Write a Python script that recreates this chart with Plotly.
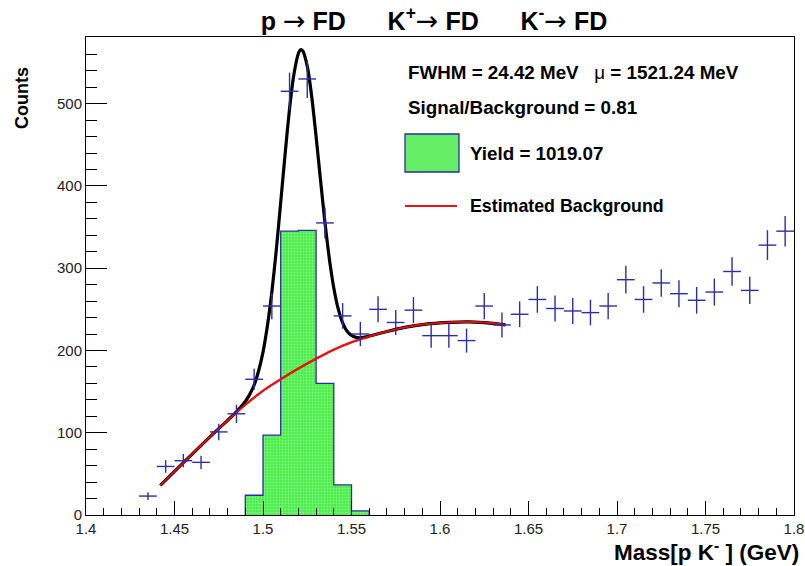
import numpy as np
import plotly.graph_objects as go

# ---------------- data ----------------
bin_centers = [1.435, 1.445, 1.455, 1.465, 1.475, 1.485, 1.495, 1.505, 1.515, 1.525,
               1.535, 1.545, 1.555, 1.565, 1.575, 1.585, 1.595, 1.605, 1.615, 1.625,
               1.635, 1.645, 1.655, 1.665, 1.675, 1.685, 1.695, 1.705, 1.715, 1.725,
               1.735, 1.745, 1.755, 1.765, 1.775, 1.785, 1.795]
counts = [23, 59, 66, 64, 101, 123, 165, 254, 515, 530,
          355, 242, 220, 250, 234, 249, 218, 218, 212, 254,
          231, 244, 262, 251, 248, 246, 254, 286, 262, 282,
          269, 261, 271, 296, 273, 328, 345]

signal_edges = [1.49, 1.50, 1.51, 1.52, 1.53, 1.54, 1.55, 1.56]
signal_counts = [24, 97, 345, 346, 160, 36.5, 5]

bkg_x = [1.442, 1.45, 1.46, 1.47, 1.48, 1.49, 1.50, 1.51, 1.52, 1.53, 1.54,
         1.55, 1.56, 1.57, 1.58, 1.59, 1.60, 1.61, 1.62, 1.63, 1.637]
bkg_y = [36, 53, 74, 95, 115, 134, 151, 165, 178, 190, 201,
         210, 217, 223, 228, 231.5, 233.5, 234.5, 234.5, 233, 231]

fit_x = [1.442, 1.45, 1.46, 1.47, 1.48, 1.485, 1.49, 1.4925, 1.495, 1.4975, 1.50,
         1.5025, 1.505, 1.5075, 1.51, 1.5125, 1.515, 1.5175, 1.52, 1.5212, 1.5225,
         1.525, 1.5275, 1.53, 1.5325, 1.535, 1.5375, 1.54, 1.5425, 1.545, 1.5475,
         1.55, 1.5525, 1.555, 1.56, 1.57, 1.58, 1.59, 1.60, 1.61, 1.62, 1.63, 1.637]
fit_y = [36, 53, 74, 95, 115, 125.4, 138, 146.6, 158, 175, 198,
         230, 271, 322, 380, 439, 494, 536, 561, 565.5, 564,
         545.5, 509, 460, 407, 355.5, 311, 276, 250.5, 233.5, 223.4,
         218.3, 215.9, 215.4, 217.4, 223, 228, 231.5, 233.5, 234.5, 234.5, 233, 231]

x_range = [1.4, 1.8]
y_range = [0, 581]

# ---------------- figure ----------------
W, H = 805, 566
PL, PR, PT, PB = 86, 794, 37, 515          # plot area in window pixels
ml, mt = PL, PT
mr, mb = W - PR, H - PB
pw, ph = W - ml - mr, H - mt - mb

def px(xw):
    return (xw - ml) / pw

def py(yw):
    return (H - mb - yw) / ph

BLUE = "#2d2da6"
GREEN_BG = "#44ee44"

fig = go.Figure()

# signal histogram (step contour with fill)
sx = [signal_edges[0]]
sy = [0]
for i, v in enumerate(signal_counts):
    sx.append(signal_edges[i])
    sy.append(v)
sx.append(signal_edges[-1])
sy.append(signal_counts[-1])
sx.append(signal_edges[-1])
sy.append(0)

fig.add_trace(go.Scatter(
    x=sx, y=sy, mode="lines", line=dict(color=BLUE, width=1.3, shape="hv"),
    fill="tozeroy", fillcolor=GREEN_BG,
    fillpattern=dict(shape=".", bgcolor=GREEN_BG, fgcolor="#d8ffd8", size=3, solidity=0.35),
    hoverinfo="skip", showlegend=False))

# background
fig.add_trace(go.Scatter(x=bkg_x, y=bkg_y, mode="lines",
                         line=dict(color="#ee1111", width=2.2, shape="spline"),
                         showlegend=False))
# total fit
fig.add_trace(go.Scatter(x=fit_x, y=fit_y, mode="lines",
                         line=dict(color="black", width=3.2, shape="spline", smoothing=0.6),
                         showlegend=False))
# redraw background above fit where they overlap
fig.add_trace(go.Scatter(x=bkg_x, y=bkg_y, mode="lines",
                         line=dict(color="#ee1111", width=2, shape="spline"),
                         opacity=0.9, showlegend=False))

# data points
fig.add_trace(go.Scatter(
    x=bin_centers, y=counts, mode="markers",
    marker=dict(size=1, color=BLUE, opacity=0),
    error_x=dict(type="constant", value=0.005, color=BLUE, thickness=1.4, width=0),
    error_y=dict(type="data", array=list(np.sqrt(counts)), color=BLUE, thickness=1.4, width=0),
    showlegend=False))

FONT = "Liberation Sans, Arial, sans-serif"
ARROW = '<span style="font-family:DejaVu Sans;font-size:27px;font-weight:normal">→</span>'
SP = "\u00a0"

title_text = ("<b>p</b>" + SP + ARROW + SP + "<b>FD</b>" + SP * 6 +
              "<b>K<sup>+</sup></b>" + ARROW + SP + "<b>FD</b>" + SP * 6 +
              "<b>K<sup>-</sup></b>" + ARROW + SP + "<b>FD</b>")

fig.update_layout(
    width=W, height=H,
    margin=dict(l=ml, r=mr, t=mt, b=mb, autoexpand=False),
    paper_bgcolor="white", plot_bgcolor="white",
    font=dict(family=FONT, color="black"),
    hovermode=False,
    title=dict(
        text=title_text,
        x=434 / W, xanchor="center", y=1 - 21 / H, yanchor="middle",
        font=dict(size=25, family=FONT, color="black")),
    xaxis=dict(range=x_range, dtick=0.05, tick0=1.4, showgrid=False, zeroline=False,
               automargin=False,
               ticks="inside", ticklen=14, tickwidth=1, tickcolor="black",
               showline=True, linecolor="black", linewidth=1, mirror=True,
               tickfont=dict(size=15, color="#222"),
               minor=dict(dtick=0.01, ticks="inside", ticklen=7, tickcolor="black", showgrid=False)),
    yaxis=dict(range=y_range, dtick=100, tick0=0, showgrid=False, zeroline=False,
               automargin=False,
               ticks="inside", ticklen=21, tickwidth=1, tickcolor="black",
               showline=True, linecolor="black", linewidth=1, mirror=True,
               tickfont=dict(size=15, color="#222"),
               minor=dict(dtick=20, ticks="inside", ticklen=11, tickcolor="black", showgrid=False)),
)

LEG = 18.8
ann = []
ann.append(dict(text="<b>Counts</b>", x=px(22), y=py(98), xref="paper", yref="paper",
                textangle=-90, showarrow=False, xanchor="center", yanchor="middle",
                font=dict(size=18, family=FONT)))
ann.append(dict(text="<b>Mass[p K<sup>-</sup> ] (GeV)</b>", x=px(801), y=py(551),
                xref="paper", yref="paper", showarrow=False, xanchor="right", yanchor="middle",
                font=dict(size=22.5, family=FONT)))
ann.append(dict(text="<b>FWHM = 24.42 MeV" + SP * 3 + "</b>μ<b> = 1521.24 MeV</b>", x=px(406), y=py(72),
                xref="paper", yref="paper", showarrow=False, xanchor="left", yanchor="middle",
                font=dict(size=LEG, family=FONT)))
ann.append(dict(text="<b>Signal/Background = 0.81</b>", x=px(406), y=py(108),
                xref="paper", yref="paper", showarrow=False, xanchor="left", yanchor="middle",
                font=dict(size=LEG, family=FONT)))
ann.append(dict(text="<b>Yield = 1019.07</b>", x=px(468), y=py(153),
                xref="paper", yref="paper", showarrow=False, xanchor="left", yanchor="middle",
                font=dict(size=LEG, family=FONT)))
ann.append(dict(text="<b>Estimated Background</b>", x=px(468), y=py(206),
                xref="paper", yref="paper", showarrow=False, xanchor="left", yanchor="middle",
                font=dict(size=17.8, family=FONT)))
fig.update_layout(annotations=ann)

fig.add_shape(type="rect", xref="paper", yref="paper",
              x0=px(405), x1=px(459), y0=py(172), y1=py(134),
              fillcolor="#66ee66", line=dict(color=BLUE, width=1.3))
fig.add_shape(type="line", xref="paper", yref="paper",
              x0=px(405), x1=px(457), y0=py(206), y1=py(206),
              line=dict(color="#ee1111", width=2))

fig.write_html("out.html",
               config={"displayModeBar": False, "staticPlot": True},
               post_script="document.body.style.margin='0';document.body.style.overflow='hidden';")
